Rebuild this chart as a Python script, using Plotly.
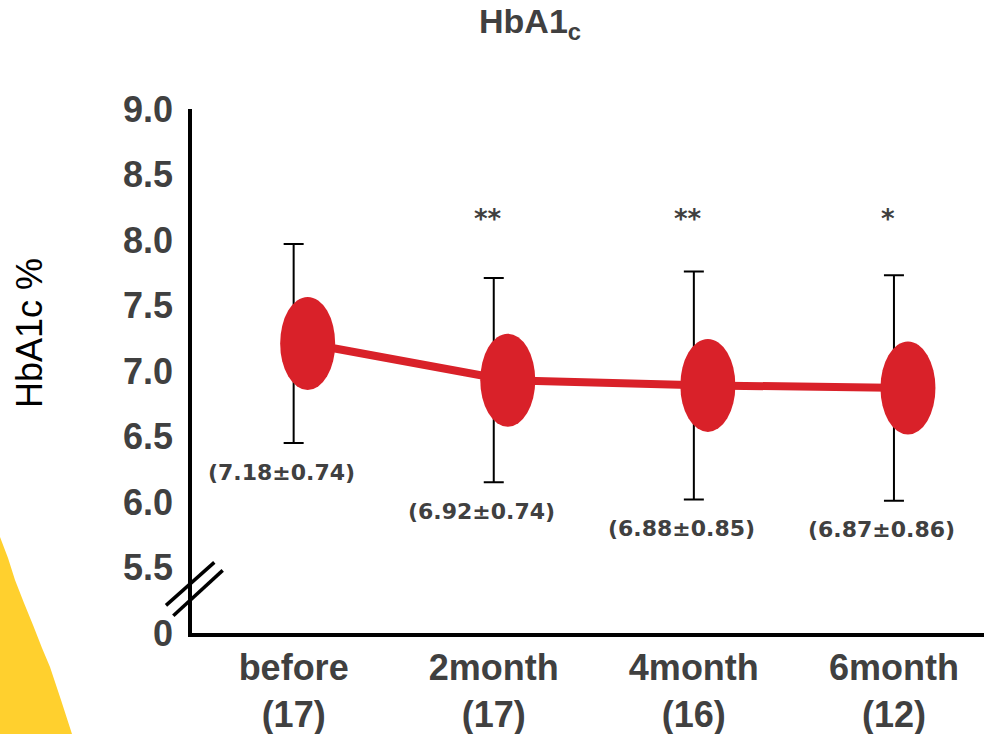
import plotly.graph_objects as go

# ---- data ----
categories = ["before", "2month", "4month", "6month"]
n_counts = ["17", "17", "16", "12"]
means = [7.21, 6.93, 6.89, 6.87]          # plotted positions
sds = [0.76, 0.78, 0.87, 0.86]           # plotted half-ranges of error bars
value_labels = ["(7.18±0.74)", "(6.92±0.74)", "(6.88±0.85)", "(6.87±0.86)"]
stars = ["", "**", "**", "*"]
y_tickvals = [5.0, 5.5, 6.0, 6.5, 7.0, 7.5, 8.0, 8.5, 9.0]
y_ticktext = ["0", "5.5", "6.0", "6.5", "7.0", "7.5", "8.0", "8.5", "9.0"]

RED = "#D92129"
GREY = "#404040"
W, H = 984, 734
ML, MR, MT, MB = 192, 0, 109, 101

xs = list(range(len(categories)))
marker_off = 0.07
xs_marker = [x + marker_off for x in xs]


def px(xp, yp):
    """pixel position -> paper coordinates"""
    return (xp - ML) / (W - ML - MR), (H - MB - yp) / (H - MT - MB)


fig = go.Figure()

# error bars
fig.add_trace(go.Scatter(
    x=xs, y=means, mode="markers",
    marker=dict(size=1, color="rgba(0,0,0,0)"),
    error_y=dict(type="data", array=sds, visible=True, color="black",
                 thickness=2, width=10),
    hoverinfo="skip", showlegend=False,
))
# connecting line
fig.add_trace(go.Scatter(
    x=xs_marker, y=means, mode="lines",
    line=dict(color=RED, width=8),
    showlegend=False,
))

shapes = []
# elliptical markers
for xm, m in zip(xs_marker, means):
    shapes.append(dict(type="circle", xref="x", yref="y",
                       xsizemode="pixel", ysizemode="pixel",
                       xanchor=xm, yanchor=m,
                       x0=-27.5, x1=27.5, y0=-46.5, y1=46.5,
                       fillcolor=RED, line=dict(width=0), layer="above"))
# axis break marks
for (a, b, c, d) in [(-26, 27.6, 22.3, 70.6), (-18.7, 17.3, 30.7, 62.6)]:
    shapes.append(dict(type="line", xref="paper", yref="paper",
                       xsizemode="pixel", ysizemode="pixel",
                       xanchor=0, yanchor=0, x0=a, y0=b, x1=c, y1=d,
                       line=dict(color="black", width=3.5), layer="above"))

# decorative yellow shape at the bottom left
pts = [(-2, 528), (0, 537), (8, 558), (15, 580), (24, 603), (33, 625),
       (42, 648), (50, 667), (61, 700), (72, 734), (72, 740), (-2, 740)]
path = ""
for i, (a, b) in enumerate(pts):
    u, v = px(a, b)
    path += ("M" if i == 0 else "L") + f"{u:.5f},{v:.5f} "
path += "Z"
shapes.append(dict(type="path", xref="paper", yref="paper", path=path,
                   fillcolor="#FFD02E", line=dict(width=0), layer="below"))

annotations = []
for x, m, s, lab in zip(xs, means, sds, value_labels):
    annotations.append(dict(x=x, y=m - s, xref="x", yref="y", text=lab,
                            showarrow=False, xshift=-12, yshift=-29,
                            yanchor="middle",
                            font=dict(family="DejaVu Sans", size=22, color=GREY,
                                      weight="bold")))
for x, st in zip(xs, stars):
    if st:
        annotations.append(dict(x=x, y=0.79, xref="x", yref="paper", text=st,
                                showarrow=False, xshift=-6, yanchor="middle",
                                font=dict(family="DejaVu Sans", size=26, color=GREY,
                                          weight="bold")))
# y-axis title
tx, ty = px(29, 333)
annotations.append(dict(x=tx, y=ty, xref="paper", yref="paper",
                        text="HbA1c %", textangle=-90, showarrow=False,
                        xanchor="center", yanchor="middle",
                        font=dict(family="Liberation Sans", size=36, color="black")))
# chart title
tx, ty = px(530, 24)
annotations.append(dict(x=tx, y=ty, xref="paper", yref="paper",
                        text="<b>HbA1<sub>c</sub></b>", showarrow=False,
                        xanchor="center", yanchor="middle",
                        font=dict(family="Liberation Sans", size=34, color=GREY)))

fig.update_layout(
    width=W, height=H,
    margin=dict(l=ML, r=MR, t=MT, b=MB),
    paper_bgcolor="white", plot_bgcolor="white",
    shapes=shapes, annotations=annotations,
    showlegend=False,
)
fig.update_xaxes(
    range=[-0.508, 3.45], tickvals=xs,
    ticktext=[f"{c}<br>({n})" for c, n in zip(categories, n_counts)],
    showline=True, linecolor="black", linewidth=3.5,
    showgrid=False, zeroline=False, ticks="",
    tickfont=dict(family="Liberation Sans", size=36, color=GREY, weight="bold"),
)
fig.update_yaxes(
    range=[5.0, 9.0], tickvals=y_tickvals, ticktext=y_ticktext,
    showline=True, linecolor="black", linewidth=3.5,
    showgrid=False, zeroline=False, ticks="",
    ticklabelstandoff=8,
    tickfont=dict(family="Liberation Sans", size=36, color=GREY, weight="bold"),
)

fig.write_html("out.html")
